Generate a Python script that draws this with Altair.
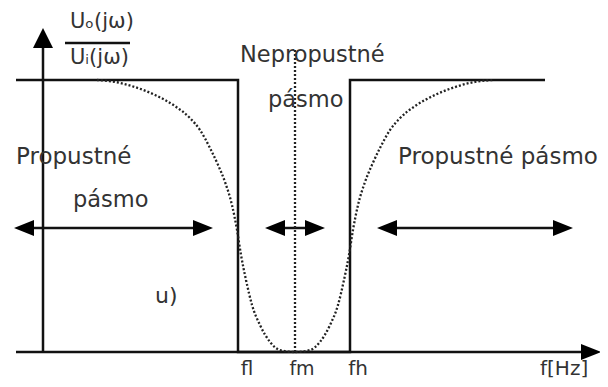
import altair as alt
import pandas as pd

# ---- data (horizontal: frequency in drawing units, vertical: gain |Uo/Ui|, 1 = pass level)
f_low, f_mid, f_high = 238, 295, 350

# ideal band-stop response (solid)
ideal_x = [16, 238, 238, 350, 350, 545]
ideal_g = [1.0, 1.0, 0.0, 0.0, 1.0, 1.0]

# real response (dotted)
real_x = [97, 115, 135, 155, 175, 190, 200, 210, 218, 225, 232, 237, 241, 246, 252, 260, 270, 280, 295,
          310, 320, 330, 338, 344, 349, 353, 358, 365, 372, 380, 390, 400, 415, 435, 455, 475, 493]
real_g = [1.0, 0.993, 0.974, 0.945, 0.904, 0.860, 0.816, 0.750, 0.688, 0.625, 0.540, 0.449, 0.357,
          0.265, 0.173, 0.099, 0.037, 0.007, 0.0,
          0.007, 0.037, 0.099, 0.173, 0.265, 0.357, 0.449, 0.540, 0.625, 0.688, 0.750, 0.816, 0.860,
          0.904, 0.945, 0.974, 0.993, 1.0]

# axes
yaxis_x, yaxis_g = [43, 43], [0.0, 1.118]
xaxis_x, xaxis_g = [16, 582], [0.0, 0.0]
fm_line_x, fm_line_g = [295, 295], [0.0, 1.11]
frac_x, frac_g = [65, 130], [1.136, 1.136]

# double arrows (band widths) at gain level
arrow_g = 0.456
arrow_from = [14, 265, 377]
arrow_to = [213, 325, 573]

# texts (left aligned): label, x, gain, font size
left_labels = ["Nepropustné", "pásmo", "Propustné", "pásmo", "Propustné pásmo", "u)", "f[Hz]",
               "Uₒ(jω)", "Uᵢ(jω)"]
left_x = [240, 268, 16, 73, 398, 155, 540, 70, 70]
left_g = [1.092, 0.926, 0.717, 0.559, 0.717, 0.206, -0.0625, 1.213, 1.081]
left_size = [22.5, 22.5, 23, 22.5, 23, 22, 20, 21, 21]

# texts (centered): tick labels
tick_labels = ["fl", "fm", "fh"]
tick_x = [247, 302, 358]
tick_g = [-0.0625, -0.0625, -0.0625]
tick_size = [20, 19, 20]

# ---- build tables
rows = []
def add(name, xs, gs):
    for i, (a, b) in enumerate(zip(xs, gs)):
        rows.append({"seg": name, "o": i, "x": a, "g": b})

add("ideal", ideal_x, ideal_g)
add("yaxis", yaxis_x, yaxis_g)
add("xaxis", xaxis_x, xaxis_g)
add("frac", frac_x, frac_g)
for k, (a, b) in enumerate(zip(arrow_from, arrow_to)):
    add(f"arr{k}", [a + 8, b - 8], [arrow_g, arrow_g])
solid = pd.DataFrame(rows)

rows = []
add("real", real_x, real_g)
add("fm", fm_line_x, fm_line_g)
dotted = pd.DataFrame(rows)

heads_r = pd.DataFrame({"x": [b - 10 for b in arrow_to] + [591], "g": [arrow_g] * 3 + [0.0]})
heads_l = pd.DataFrame({"x": [a + 10 for a in arrow_from], "g": [arrow_g] * 3})
heads_u = pd.DataFrame({"x": [43], "g": [1.154]})
texts_l = pd.DataFrame({"t": left_labels, "x": left_x, "g": left_g, "s": left_size})
texts_c = pd.DataFrame({"t": tick_labels, "x": tick_x, "g": tick_g, "s": tick_size})

xs = alt.Scale(domain=[8, 600], nice=False, zero=False)
ys = alt.Scale(domain=[-0.09926, 1.2647], nice=False, zero=False)
X = alt.X("x:Q", scale=xs, axis=None)
Y = alt.Y("g:Q", scale=ys, axis=None)

solid_layer = alt.Chart(solid).mark_line(color="#111", strokeWidth=2.5).encode(
    x=X, y=Y, detail="seg:N", order="o:Q")
dotted_layer = alt.Chart(dotted).mark_line(color="#222", strokeWidth=2.3, strokeDash=[2, 2],
                                           interpolate="monotone").encode(
    x=X, y=Y, detail="seg:N", order="o:Q")

def heads(df, path, size):
    return alt.Chart(df).mark_point(shape=path, filled=True, size=size, color="#000",
                                    opacity=1, strokeWidth=0).encode(x=X, y=Y)

hr = heads(heads_r, "M-1,-0.8L1,0L-1,0.8Z", 400)
hl = heads(heads_l, "M1,-0.8L-1,0L1,0.8Z", 400)
hu = heads(heads_u, "M-1,1L0,-1L1,1Z", 400)

text_left = alt.Chart(texts_l).mark_text(font="DejaVu Sans", color="#333", align="left",
                                         baseline="middle").encode(
    x=X, y=Y, text="t:N", size=alt.Size("s:Q", scale=None))
text_center = alt.Chart(texts_c).mark_text(font="DejaVu Sans", color="#333", align="center",
                                           baseline="middle").encode(
    x=X, y=Y, text="t:N", size=alt.Size("s:Q", scale=None))

chart = alt.layer(solid_layer, dotted_layer, hr, hl, hu, text_left, text_center).properties(
    width=592, height=371, padding=0, autosize="none", background="white"
).configure_view(stroke=None)

chart.save("out.html", embed_options={"renderer": "svg", "actions": False})
